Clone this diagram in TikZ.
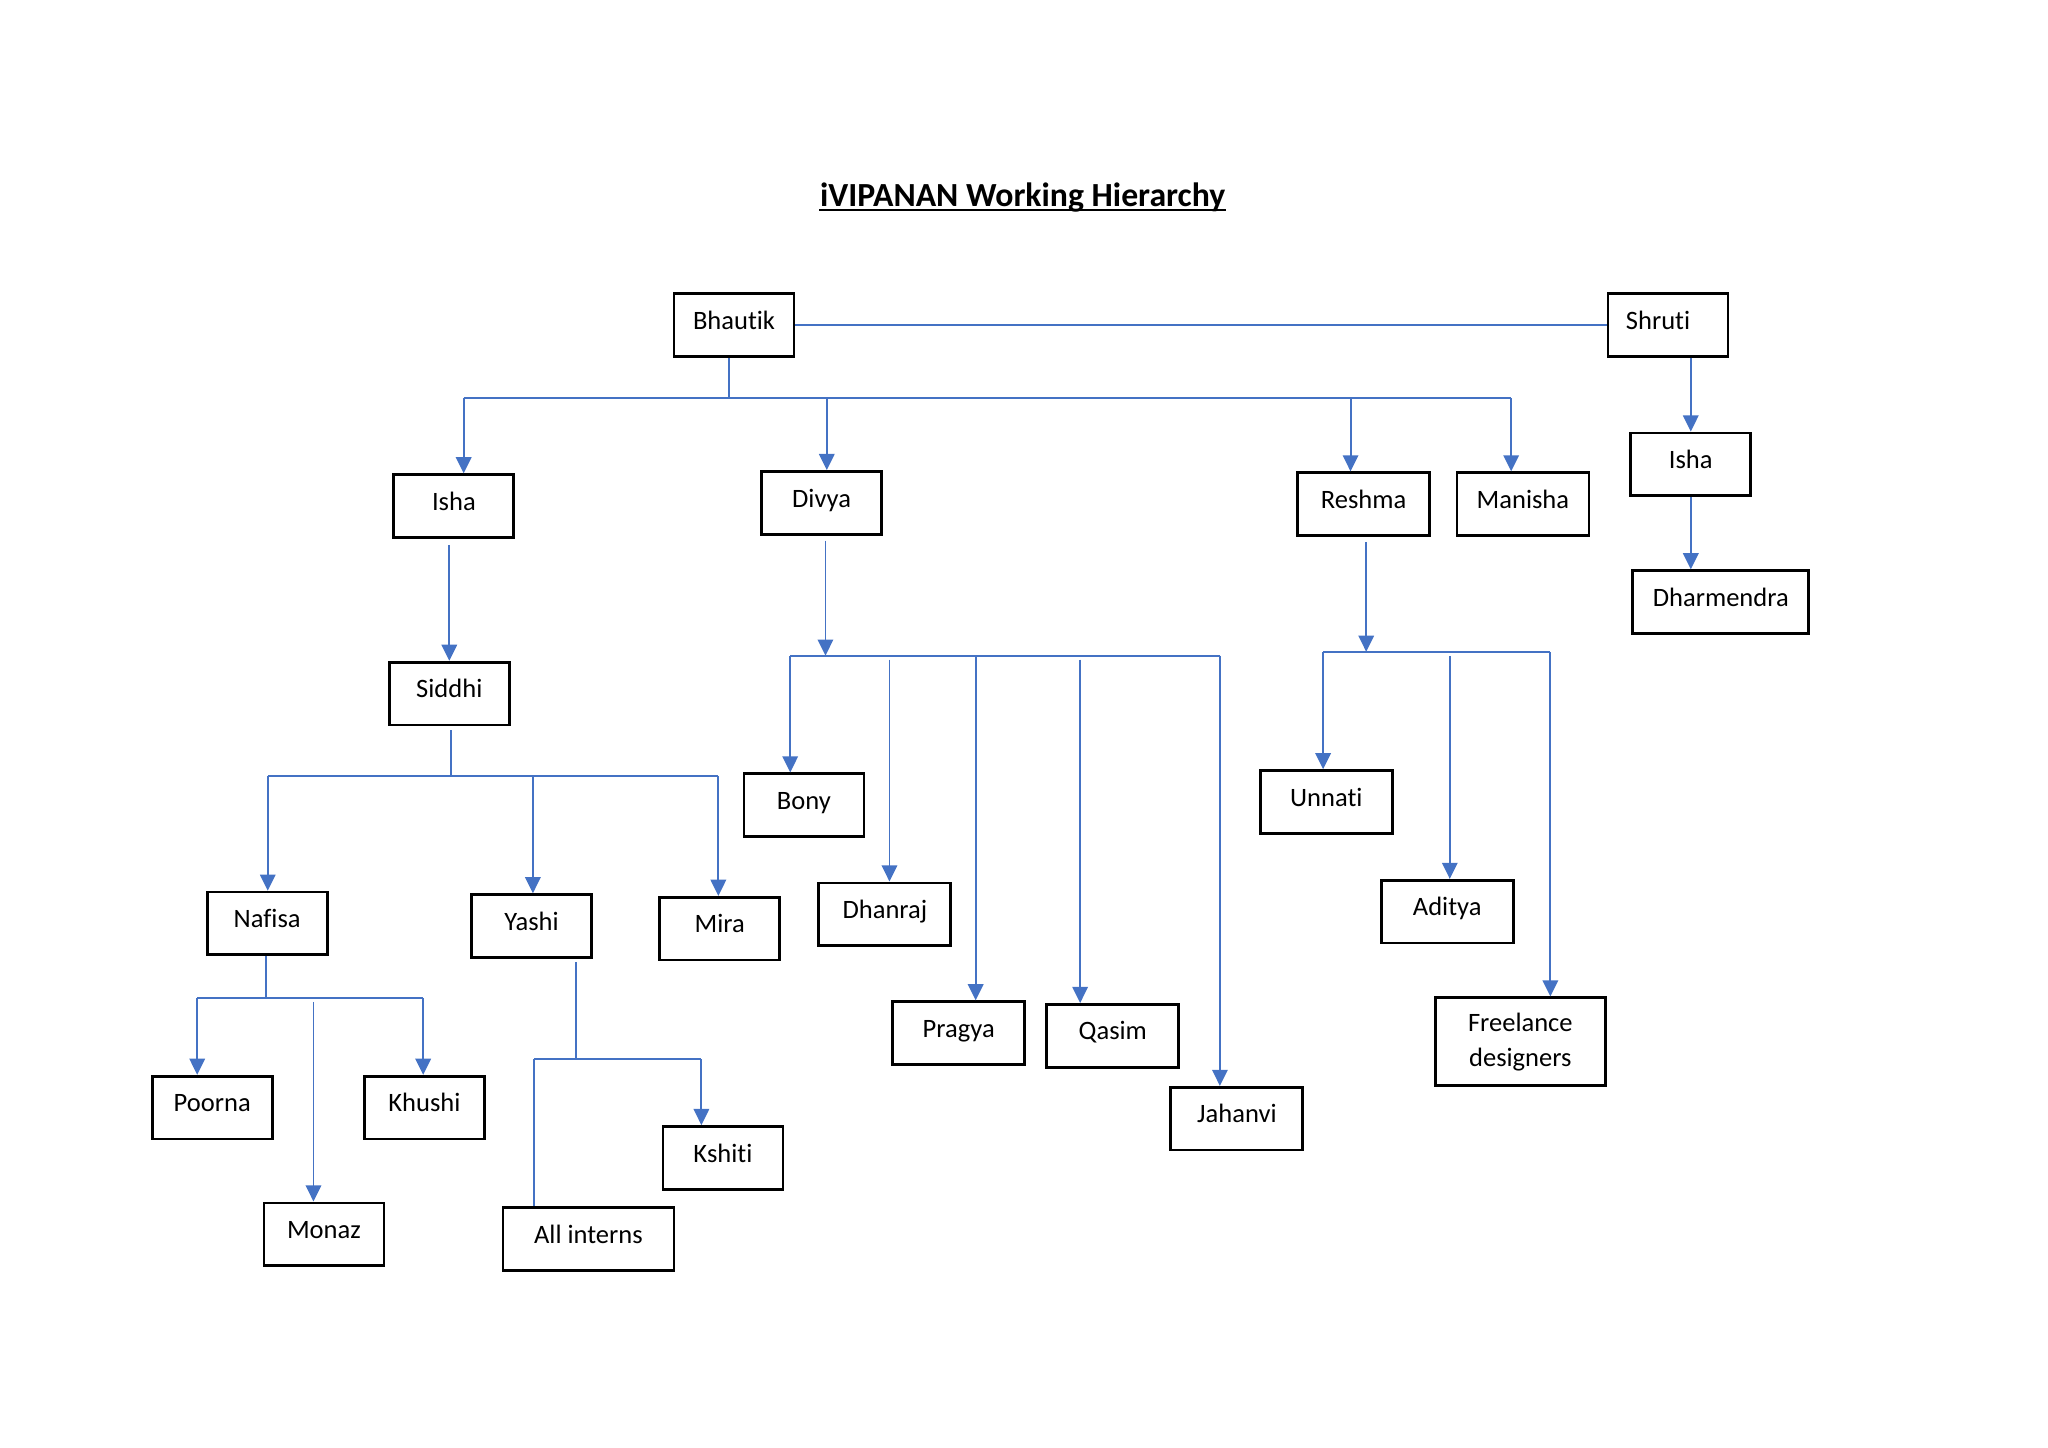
\documentclass[tikz,border=0pt]{standalone}
\usepackage{fontspec}
\setmainfont{Carlito}[Ligatures=NoCommon]
\usetikzlibrary{arrows.meta,positioning,calc}
\definecolor{lineblue}{HTML}{4472C4}

\begin{document}
\begin{tikzpicture}[
    x=0.13061mm, y=-0.13061mm,
    boxbase/.style={rectangle, draw, line width=0.8pt, minimum width=12.0mm, minimum height=6.27mm, inner sep=0pt, font=\fontsize{7.55}{9.2}\selectfont},
    box/.style={boxbase, text height=5.6pt, text depth=3.2pt},
    widebox/.style={box, minimum width=13.2mm},
    link/.style={draw=lineblue, line width=0.55pt},
    arrow/.style={link, -{Triangle[width=4.4pt,length=4.6pt]}},
    title/.style={font=\fontsize{9.6}{12}\selectfont\bfseries, inner sep=0pt}
]
\useasboundingbox (0,0) rectangle (1568,1108.6);

% Titel
\node[title, anchor=base] (title) at (783,158) {iVIPANAN Working Hierarchy};
\draw[line width=0.6pt] ([yshift=-1.1pt]title.base west) -- ([yshift=-1.1pt]title.base east);

% obere Ebene
\node[box] (bhautik) at (562,249) {Bhautik};
\node[box, inner xsep=1.8mm, text width=8.4mm, align=left] (shruti) at (1277,249) {Shruti};

% zweite Ebene
\node[box] (isha) at (347.5,387.5) {Isha};
\node[box] (divya) at (629,385) {Divya};
\node[widebox] (reshma) at (1044,386) {Reshma};
\node[widebox] (manisha) at (1166,386) {Manisha};
\node[box] (ishaB) at (1294.5,355.5) {Isha};
\node[box, minimum width=17.6mm] (dharmendra) at (1317.5,461) {Dharmendra};

% dritte Ebene
\node[box] (siddhi) at (344,531) {Siddhi};
\node[box] (bony) at (615.5,616.5) {Bony};
\node[widebox] (dhanraj) at (677.5,700) {Dhanraj};
\node[widebox] (pragya) at (734,791) {Pragya};
\node[widebox] (qasim) at (852,793) {Qasim};
\node[widebox] (jahanvi) at (947,856.5) {Jahanvi};
\node[widebox] (unnati) at (1015.5,614) {Unnati};
\node[widebox] (aditya) at (1108,698) {Aditya};
\node[boxbase, minimum width=17.0mm, minimum height=8.75mm, align=center, font=\fontsize{7.55}{10}\selectfont] (freelance) at (1164,797.5) {Freelance\\designers};

% unter Siddhi
\node[box] (nafisa) at (204.5,707) {Nafisa};
\node[box] (yashi) at (407,709) {Yashi};
\node[box] (mira) at (551,711) {Mira};
\node[box] (poorna) at (162.5,848) {Poorna};
\node[box] (khushi) at (325,848) {Khushi};
\node[box] (monaz) at (248,945) {Monaz};
\node[box] (kshiti) at (553.5,886.5) {Kshiti};
\node[box, minimum width=17.1mm] (interns) at (450.5,948.5) {All interns};

% Verzweigungspunkte
\coordinate (topbus) at (558,305);
\coordinate (topL) at (355,305);
\coordinate (topD) at (633,305);
\coordinate (topRe) at (1034,305);
\coordinate (topR) at (1157,305);
\coordinate (sidbus) at (345,594);
\coordinate (sidL) at (205,594);
\coordinate (sidY) at (408,594);
\coordinate (sidR) at (550,594);
\coordinate (divbus) at (632,502);
\coordinate (divL) at (605,502);
\coordinate (divDh) at (681,502);
\coordinate (divP) at (747,502);
\coordinate (divQ) at (827,502);
\coordinate (divR) at (934,502);
\coordinate (resbus) at (1046,499);
\coordinate (resL) at (1013,499);
\coordinate (resA) at (1110,499);
\coordinate (resR) at (1187,499);
\coordinate (nafbus) at (204,764);
\coordinate (nafL) at (151,764);
\coordinate (nafM) at (240,764);
\coordinate (nafR) at (324,764);
\coordinate (yasbus) at (441,811);
\coordinate (yasL) at (409,811);
\coordinate (yasR) at (537,811);

% Verbindungen oben
\draw[link] (bhautik.east) -- (shruti.west);
\draw[link] (topbus |- bhautik.south) -- (topbus);
\draw[link] (topL) -- (topR);
\draw[arrow] (topL) -- (topL |- isha.north);
\draw[arrow] (topD) -- (topD |- divya.north);
\draw[arrow] (topRe) -- (topRe |- reshma.north);
\draw[arrow] (topR) -- (topR |- manisha.north);
\draw[arrow] (ishaB.north |- shruti.south) -- (ishaB.north);
\draw[arrow] (ishaB.south) -- (ishaB.south |- dharmendra.north);

% Isha und Siddhi
\draw[arrow, shorten <=0.6mm] (siddhi.north |- isha.south) -- (siddhi.north);
\draw[link, shorten <=0.4mm] (sidbus |- siddhi.south) -- (sidbus);
\draw[link] (sidL) -- (sidR);
\draw[arrow] (sidL) -- (sidL |- nafisa.north);
\draw[arrow] (sidY) -- (sidY |- yashi.north);
\draw[arrow] (sidR) -- (sidR |- mira.north);

% Divya
\draw[arrow, shorten <=0.5mm] (divbus |- divya.south) -- (divbus);
\draw[link] (divL) -- (divR);
\draw[arrow] (divL) -- (divL |- bony.north);
\draw[arrow, shorten <=0.4mm] (divDh) -- (divDh |- dhanraj.north);
\draw[arrow] (divP) -- (divP |- pragya.north);
\draw[arrow, shorten <=0.4mm] (divQ) -- (divQ |- qasim.north);
\draw[arrow] (divR) -- (divR |- jahanvi.north);

% Reshma
\draw[arrow, shorten <=0.5mm] (resbus |- reshma.south) -- (resbus);
\draw[link] (resL) -- (resR);
\draw[arrow] (resL) -- (resL |- unnati.north);
\draw[arrow, shorten <=0.4mm] (resA) -- (resA |- aditya.north);
\draw[arrow] (resR) -- (resR |- freelance.north);

% Nafisa
\draw[link] (nafbus |- nafisa.south) -- (nafbus);
\draw[link] (nafL) -- (nafR);
\draw[arrow] (nafL) -- (nafL |- poorna.north);
\draw[arrow, shorten <=0.4mm] (nafM) -- (nafM |- monaz.north);
\draw[arrow] (nafR) -- (nafR |- khushi.north);

% Yashi
\draw[link, shorten <=0.3mm] (yasbus |- yashi.south) -- (yasbus);
\draw[link] (yasL) -- (yasR);
\draw[arrow] (yasR) -- (yasR |- kshiti.north);
\draw[link] (yasL) -- (yasL |- interns.north);

\end{tikzpicture}
\end{document}
